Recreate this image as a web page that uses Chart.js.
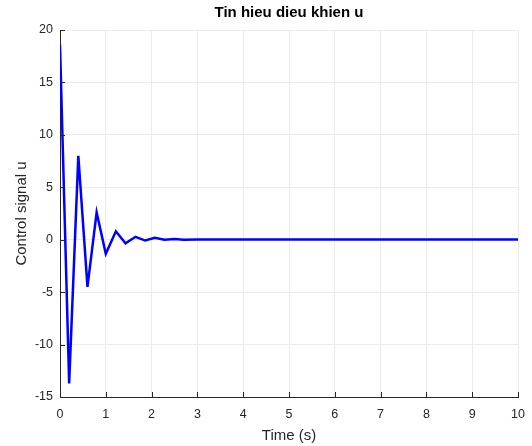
<!DOCTYPE html>
<html>
<head>
<meta charset="utf-8">
<script src="https://cdn.jsdelivr.net/npm/chart.js@4.4.0/dist/chart.umd.min.js"></script>
<style>
  body { margin: 0; background: #fff; }
  canvas { display: block; }
</style>
</head>
<body>
<canvas id="chart" width="532" height="446"></canvas>
<script>
// values
const time = [0, 0.2, 0.4, 0.6, 0.8, 1.0, 1.22, 1.43, 1.65, 1.86, 2.07, 2.28, 2.5, 2.7, 3, 10];
const u = [18.6, -13.7, 8.0, -4.5, 2.6, -1.35, 0.8, -0.35, 0.28, -0.08, 0.18, 0.0, 0.07, 0.0, 0.02, 0.02];
const xTicks = [0, 1, 2, 3, 4, 5, 6, 7, 8, 9, 10];
const yTicks = [-15, -10, -5, 0, 5, 10, 15, 20];

const axisColor = '#262626';
const gridColor = '#ebebeb';

// MATLAB style ticks pointing into the plot
const innerTicks = {
    id: 'innerTicks',
    afterDraw(chart) {
        const c = chart.ctx;
        const x = chart.scales.x, y = chart.scales.y;
        const area = chart.chartArea;
        c.save();
        c.strokeStyle = axisColor;
        c.lineWidth = 1;
        c.beginPath();
        xTicks.forEach(function(v){
            const px = Math.round(x.getPixelForValue(v)) + 0.5;
            c.moveTo(px, area.bottom);
            c.lineTo(px, area.bottom - 5);
        });
        yTicks.forEach(function(v){
            const py = Math.round(y.getPixelForValue(v)) + 0.5;
            c.moveTo(area.left, py);
            c.lineTo(area.left + 5, py);
        });
        c.stroke();
        c.restore();
    }
};

new Chart(document.getElementById('chart'), {
    type: 'line',
    data: {
        datasets: [{
            data: time.map(function(t, i){ return {x: t, y: u[i]}; }),
            borderColor: '#0000ff',
            borderWidth: 2.5,
            pointRadius: 0,
            tension: 0,
            fill: false
        }]
    },
    options: {
        responsive: false,
        animation: false,
        devicePixelRatio: 1,
        layout: { padding: { top: 0, right: 14, left: 0, bottom: 0 } },
        plugins: {
            legend: { display: false },
            tooltip: { enabled: false },
            title: {
                display: true,
                text: 'Tin hieu dieu khien u',
                fullSize: false,
                color: '#000',
                font: { family: 'Liberation Sans', size: 15, weight: 'bold' },
                padding: { top: 4, bottom: 8 }
            }
        },
        scales: {
            x: {
                type: 'linear',
                min: 0,
                max: 10,
                afterFit: function(s){ s.height = 49; s.paddingLeft = 0; s.paddingRight = 0; },
                afterBuildTicks: function(s){ s.ticks = xTicks.map(function(v){ return {value: v}; }); },
                grid: { color: gridColor, drawTicks: false },
                border: { color: axisColor, width: 1 },
                ticks: {
                    color: axisColor,
                    padding: 10,
                    maxRotation: 0,
                    font: { family: 'Liberation Sans', size: 12.5 }
                },
                title: {
                    display: true,
                    text: 'Time (s)',
                    color: axisColor,
                    font: { family: 'Liberation Sans', size: 15 },
                    padding: { top: 0, bottom: 1 }
                }
            },
            y: {
                min: -15,
                max: 20,
                afterFit: function(s){ s.width = 60; s.paddingTop = 0; s.paddingBottom = 0; },
                afterBuildTicks: function(s){ s.ticks = yTicks.map(function(v){ return {value: v}; }); },
                grid: { color: gridColor, drawTicks: false },
                border: { color: axisColor, width: 1 },
                ticks: {
                    color: axisColor,
                    padding: 7,
                    font: { family: 'Liberation Sans', size: 12.5 }
                },
                title: {
                    display: true,
                    text: 'Control signal u',
                    color: axisColor,
                    font: { family: 'Liberation Sans', size: 15 },
                    padding: { top: 13, bottom: 0 }
                }
            }
        }
    },
    plugins: [innerTicks]
});
</script>
</body>
</html>
